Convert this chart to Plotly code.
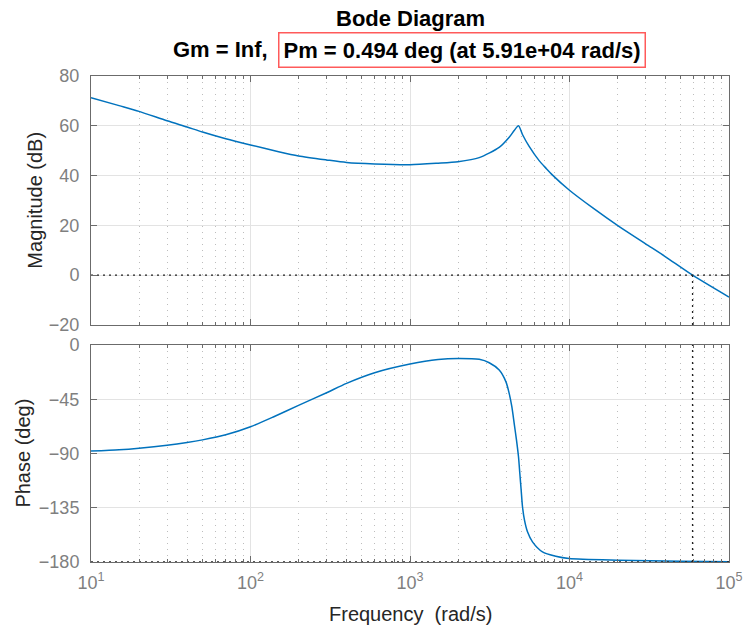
import plotly.graph_objects as go

# ---- data ----
freq_mag = [10, 15, 20, 30, 40, 50, 70, 100, 150, 200, 300, 400, 600, 1000, 1500, 2000,
            2716, 3623, 4188, 4500, 4786, 5080, 5586, 6450, 7110, 7800, 9950, 14000,
            20400, 30000, 40000, 59100, 100000]
mag_db = [71.3, 68.1, 65.8, 62.0, 59.5, 57.5, 54.8, 52.3, 49.6, 47.9, 46.3, 45.3, 44.7, 44.4,
          45.0, 45.6, 47.2, 51.3, 55.4, 58.1, 60.0, 56.4, 51.7, 46.0, 43.0, 40.3, 34.2, 27.0,
          19.6, 12.6, 7.4, 0.0, -8.8]

freq_phase = [10, 15, 20, 30, 40, 50, 70, 100, 140, 200, 300, 400, 600, 1000, 1500, 2000,
              2716, 3139, 3625, 3990, 4186, 4350, 4499, 4653, 4789, 4882, 4977, 5074, 5222,
              5453, 5861, 6768, 8204, 9943, 20400, 50000, 100000]
phase_deg = [-88.0, -86.9, -85.6, -83.2, -80.9, -78.7, -74.5, -67.8, -59.5, -50.1, -39.6,
             -31.8, -23.0, -15.8, -12.0, -11.1, -11.9, -14.7, -20.8, -30.4, -40.1, -51.2,
             -65.0, -78.9, -92.7, -106.6, -120.4, -134.2, -145.3, -155.0, -163.3, -171.6,
             -175.2, -177.1, -178.5, -179.4, -179.8]

gain_margin = "Inf"
phase_margin = 0.494          # deg
crossover_freq = 5.91e4       # rad/s

x_tickvals = [10, 100, 1000, 10000, 100000]
x_ticktext = ["10<sup>1</sup>", "10<sup>2</sup>", "10<sup>3</sup>", "10<sup>4</sup>", "10<sup>5</sup>"]
x_minor = [m * 10 ** k for k in range(1, 5) for m in range(2, 10)]
mag_ticks = [-20, 0, 20, 40, 60, 80]
phase_ticks = [-180, -135, -90, -45, 0]

# ---- styling ----
FONT = "Liberation Sans, Arial, Helvetica, sans-serif"
BLUE = "#0072BD"
FRAME = "#6b6b6b"
TICKC = "#7f7f7f"
LABELC = "#262626"
GRID = "#e3e3e3"
MINORGRID = "#bdbdbd"

fig = go.Figure()
fig.add_trace(go.Scatter(x=freq_mag, y=mag_db, xaxis="x", yaxis="y", mode="lines",
                         line=dict(color=BLUE, width=1.5, shape="spline", smoothing=0.7),
                         showlegend=False, hoverinfo="skip"))
fig.add_trace(go.Scatter(x=freq_phase, y=phase_deg, xaxis="x2", yaxis="y2", mode="lines",
                         line=dict(color=BLUE, width=1.5, shape="spline", smoothing=0.7),
                         showlegend=False, hoverinfo="skip"))

# margin reference lines (0 dB, -180 deg, crossover frequency)
dot = dict(color="#222222", width=1.3, dash="2px,4px")
fig.add_trace(go.Scatter(x=[10, 1e5], y=[0, 0], xaxis="x", yaxis="y", mode="lines",
                         line=dot, showlegend=False, hoverinfo="skip"))
fig.add_trace(go.Scatter(x=[crossover_freq, crossover_freq], y=[-20, 0], xaxis="x", yaxis="y",
                         mode="lines", line=dot, showlegend=False, hoverinfo="skip"))
fig.add_trace(go.Scatter(x=[10, 1e5], y=[-180, -180], xaxis="x2", yaxis="y2", mode="lines",
                         line=dot, showlegend=False, hoverinfo="skip"))
fig.add_trace(go.Scatter(x=[crossover_freq, crossover_freq], y=[-180, 0], xaxis="x2", yaxis="y2",
                         mode="lines", line=dot, showlegend=False, hoverinfo="skip"))

common_x = dict(type="log", range=[1, 5], tickmode="array", tickvals=x_tickvals,
                ticktext=x_ticktext, ticks="inside", ticklen=6, tickcolor=FRAME,
                showline=True, linecolor=FRAME, linewidth=1, mirror="allticks",
                showgrid=True, gridcolor=GRID, gridwidth=1, zeroline=False,
                automargin=False,
                minor=dict(tickmode="array", tickvals=x_minor, ticks="inside", ticklen=3,
                           tickcolor=FRAME, showgrid=True, gridcolor=MINORGRID,
                           griddash="1px,5px", gridwidth=1),
                tickfont=dict(family=FONT, size=18, color=TICKC))
common_y = dict(ticks="inside", ticklen=6, tickcolor=FRAME, showline=True, linecolor=FRAME,
                linewidth=1, mirror="allticks", showgrid=True, gridcolor=GRID, gridwidth=1,
                zeroline=False, automargin=False, ticklabelstandoff=7,
                tickfont=dict(family=FONT, size=18, color=TICKC))

fig.update_layout(
    width=747, height=633,
    margin=dict(l=91, r=18, t=76, b=71),
    paper_bgcolor="white", plot_bgcolor="white",
    xaxis=dict(common_x, domain=[0, 1], anchor="y", showticklabels=False),
    xaxis2=dict(common_x, domain=[0, 1], anchor="y2", matches="x", ticklabelstandoff=4),
    yaxis=dict(common_y, domain=[0.4877, 1], anchor="x", range=[-20, 80],
               tickmode="array", tickvals=mag_ticks),
    yaxis2=dict(common_y, domain=[0, 0.4465], anchor="x2", range=[-180, 0],
                tickmode="array", tickvals=phase_ticks),
)

TSIZE = 22
ann = []
ann.append(dict(text="<b>Bode Diagram</b>", xref="paper", yref="paper", x=0.5, y=1.119,
                xanchor="center", yanchor="middle", showarrow=False,
                font=dict(family=FONT, size=TSIZE, color="#000000")))
ann.append(dict(text=f"<b>Gm = {gain_margin},</b>", xref="paper", yref="paper", x=0.2810,
                y=1.0535, xanchor="right", yanchor="middle", showarrow=False,
                font=dict(family=FONT, size=TSIZE, color="#000000")))
ann.append(dict(text=f"<b>Pm = {phase_margin} deg (at {crossover_freq:.2e} rad/s)</b>",
                xref="paper", yref="paper", x=0.5815, y=1.0525, xanchor="center",
                yanchor="middle", showarrow=False, bordercolor="#ff5a5a", borderwidth=1.5,
                borderpad=4, font=dict(family=FONT, size=TSIZE, color="#000000")))
ann.append(dict(text="Magnitude (dB)", xref="paper", yref="paper", x=-0.0883, y=0.7449,
                xanchor="center", yanchor="middle", textangle=-90, showarrow=False,
                font=dict(family=FONT, size=20, color=LABELC)))
ann.append(dict(text="Phase (deg)", xref="paper", yref="paper", x=-0.1072, y=0.2243,
                xanchor="center", yanchor="middle", textangle=-90, showarrow=False,
                font=dict(family=FONT, size=20, color=LABELC)))
ann.append(dict(text="Frequency\u00a0 (rad/s)", xref="paper", yref="paper", x=0.5, y=-0.106,
                xanchor="center", yanchor="middle", showarrow=False,
                font=dict(family=FONT, size=20, color=LABELC)))
fig.update_layout(annotations=ann)

fig.write_html("out.html", config={"displayModeBar": False},
               post_script="document.body.style.margin='0';")
